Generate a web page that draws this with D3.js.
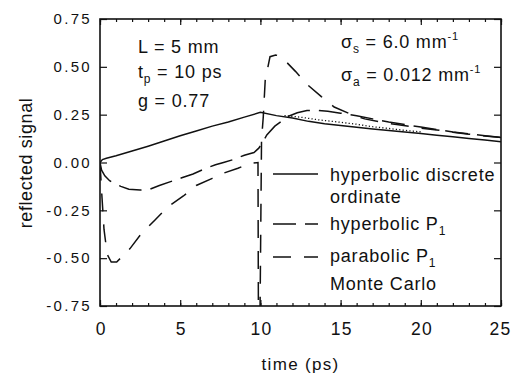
<!DOCTYPE html>
<html>
<head>
<meta charset="utf-8">
<script src="https://cdn.jsdelivr.net/npm/d3@7"></script>
<style>
  body { margin: 0; background: #fff; }
  svg { font-family: "Liberation Sans", Arial, sans-serif; }
</style>
</head>
<body>
<div id="chart"></div>
<script>
// hyperbolic discrete ordinate (solid)
var sdoTime   = [0, 0.15, 0.4, 1, 2, 3, 4, 5, 6, 7, 8, 9, 10, 11, 12, 13, 14, 15, 16, 17, 18, 19, 20, 21, 22, 23, 24, 25];
var sdoSignal = [0, 0.015, 0.022, 0.035, 0.06, 0.085, 0.112, 0.14, 0.165, 0.19, 0.212, 0.237, 0.262, 0.245, 0.232, 0.215, 0.203, 0.193, 0.184, 0.175, 0.167, 0.159, 0.151, 0.143, 0.135, 0.126, 0.118, 0.109];

// hyperbolic P1 (long dash)
var hypTime   = [0, 0.1, 0.3, 0.6, 0.9, 1.3, 1.8, 2.5, 3.1, 3.7, 4.4, 5.1, 5.8, 6.6, 7.2, 7.7, 8.3, 9.0, 9.6, 9.9, 10.1, 10.4, 10.9, 11.7, 12.3, 12.9, 13.5, 14.2, 15, 16, 17, 18, 19, 20, 21, 22, 23, 24, 25];
var hypSignal = [0, -0.04, -0.07, -0.095, -0.11, -0.125, -0.14, -0.144, -0.14, -0.12, -0.1, -0.08, -0.06, -0.03, -0.012, 0, 0.015, 0.038, 0.052, 0.075, 0.1, 0.144, 0.19, 0.24, 0.26, 0.272, 0.272, 0.268, 0.258, 0.244, 0.228, 0.212, 0.198, 0.185, 0.172, 0.16, 0.15, 0.14, 0.131];

// parabolic P1 (short dash)
var parTime   = [0, 0.1, 0.25, 0.45, 0.7, 1.04, 1.87, 2.5, 3.43, 4.25, 5.2, 6.0, 7.0, 7.7, 8.6, 9.35, 9.85, 9.88, 9.96, 10.07, 10.18, 10.3, 10.6, 10.95, 11.3, 12.2, 12.95, 13.8, 14.6, 15.75, 16.5, 17.5, 18.5, 20, 21, 22, 23, 24, 25];
var parSignal = [0, -0.15, -0.35, -0.48, -0.52, -0.52, -0.45, -0.38, -0.3, -0.23, -0.175, -0.12, -0.083, -0.056, -0.03, -0.004, 0, -0.95, -0.95, 0.118, 0.24, 0.43, 0.553, 0.562, 0.553, 0.475, 0.405, 0.344, 0.29, 0.248, 0.228, 0.212, 0.198, 0.18, 0.17, 0.158, 0.148, 0.138, 0.13];

// Monte Carlo (dotted)
var mcTime   = [11.5, 12.5, 13.7, 15, 16, 17, 18, 19, 20];
var mcSignal = [0.245, 0.237, 0.222, 0.21, 0.2, 0.187, 0.178, 0.168, 0.16];

var xTicks = [0, 5, 10, 15, 20, 25];
var xMinorTicks = d3.range(0, 26, 1);
var yTicks = [-0.75, -0.5, -0.25, 0, 0.25, 0.5, 0.75];
var yTickLabels = ["-0.75", "-0.50", "-0.25", "0.00", "0.25", "0.50", "0.75"];

var margin = { top: 19, left: 100, right: 11, bottom: 67 },
    width = 512 - margin.left - margin.right,
    height = 373 - margin.top - margin.bottom;

var svg = d3.select("#chart")
    .append("svg")
    .attr("width", 512)
    .attr("height", 373)
    .append("g")
    .attr("transform", "translate(" + margin.left + "," + margin.top + ")");

var x = d3.scaleLinear().domain([0, 25]).range([0, width]);
var y = d3.scaleLinear().domain([-0.75, 0.75]).range([height, 0]);

svg.append("clipPath").attr("id", "plot-clip")
  .append("rect").attr("width", width).attr("height", height);

// axes, ticks pointing inward
function styleAxis(g) {
  g.select(".domain").remove();
  g.selectAll(".tick line").attr("stroke", "#111").attr("stroke-width", 1.2);
  g.selectAll("text").attr("fill", "#111");
}

svg.append("g")
  .attr("transform", "translate(0," + height + ")")
  .call(d3.axisBottom(x).tickValues(xMinorTicks).tickSize(-3).tickFormat(""))
  .call(styleAxis);
svg.append("g")
  .call(d3.axisTop(x).tickValues(xMinorTicks).tickSize(-3).tickFormat(""))
  .call(styleAxis);
svg.append("g")
  .call(d3.axisTop(x).tickValues(xTicks).tickSize(-6).tickFormat(""))
  .call(styleAxis);

var xAxis = svg.append("g")
  .attr("transform", "translate(0," + height + ")")
  .call(d3.axisBottom(x).tickValues(xTicks).tickSize(-6).tickPadding(17).tickFormat(d3.format("d")))
  .call(styleAxis);
xAxis.selectAll("text")
  .attr("font-size", 17.5)
  .attr("letter-spacing", 1.2)
  .attr("dx", function(d) { return d === 25 ? -1 : 0.6; });

var yAxis = svg.append("g")
  .call(d3.axisLeft(y).tickValues(yTicks).tickSize(-7).tickPadding(8)
    .tickFormat(function(d, i) { return yTickLabels[i]; }))
  .call(styleAxis);
yAxis.selectAll("text")
  .attr("font-size", 15)
  .attr("letter-spacing", 2.3);

svg.append("g")
  .attr("transform", "translate(" + width + ",0)")
  .call(d3.axisRight(y).tickValues(yTicks).tickSize(-7).tickFormat(""))
  .call(styleAxis);

svg.append("rect")
  .attr("width", width)
  .attr("height", height)
  .attr("fill", "none")
  .attr("stroke", "#111")
  .attr("stroke-width", 1.6);

// curves
var line = d3.line()
  .x(function(d) { return x(d[0]); })
  .y(function(d) { return y(d[1]); });

var series = [
  { t: sdoTime, v: sdoSignal, dash: null, w: 1.5 },
  { t: hypTime, v: hypSignal, dash: "23,9", w: 1.5 },
  { t: parTime, v: parSignal, dash: "18,13", w: 1.5 },
  { t: mcTime, v: mcSignal, dash: "1.2,2.2", w: 1.3 }
];

var curves = svg.append("g").attr("clip-path", "url(#plot-clip)");
series.forEach(function(s) {
  curves.append("path")
    .datum(d3.zip(s.t, s.v))
    .attr("d", line)
    .attr("fill", "none")
    .attr("stroke", "#111")
    .attr("stroke-width", s.w)
    .attr("stroke-dasharray", s.dash);
});

// legend
var legend = svg.append("g").attr("fill", "#111").attr("font-size", 18).attr("letter-spacing", 0.8);
var legendLines = [
  { y: 174 - margin.top, dash: null },
  { y: 224 - margin.top, dash: "23,9" },
  { y: 257 - margin.top, dash: "18,13" }
];
legendLines.forEach(function(l) {
  legend.append("line")
    .attr("x1", 273 - margin.left).attr("x2", 318 - margin.left)
    .attr("y1", l.y).attr("y2", l.y)
    .attr("stroke", "#111").attr("stroke-width", 1.5)
    .attr("stroke-dasharray", l.dash);
});
var lx = 330 - margin.left;
legend.append("text").attr("x", lx).attr("y", 181 - margin.top).text("hyperbolic discrete");
legend.append("text").attr("x", lx).attr("y", 203 - margin.top).text("ordinate");
var t1 = legend.append("text").attr("x", lx).attr("y", 230 - margin.top);
t1.append("tspan").text("hyperbolic P");
t1.append("tspan").attr("dy", 5).attr("font-size", 12).text("1");
var t2 = legend.append("text").attr("x", lx).attr("y", 262 - margin.top);
t2.append("tspan").text("parabolic P");
t2.append("tspan").attr("dy", 5).attr("font-size", 12).text("1");
legend.append("text").attr("x", lx).attr("y", 290 - margin.top).text("Monte Carlo");

// annotations
var notes = svg.append("g").attr("fill", "#111").attr("font-size", 18).attr("letter-spacing", 0.8);
notes.append("text").attr("x", 38).attr("y", 53 - margin.top).text("L = 5 mm");
var tp = notes.append("text").attr("x", 38).attr("y", 78 - margin.top);
tp.append("tspan").text("t");
tp.append("tspan").attr("dy", 5).attr("font-size", 12).text("p");
tp.append("tspan").attr("dy", -5).text(" = 10 ps");
notes.append("text").attr("x", 38).attr("y", 107 - margin.top).text("g = 0.77");

var ss = notes.append("text").attr("x", 241).attr("y", 48 - margin.top);
ss.append("tspan").text("σ");
ss.append("tspan").attr("dy", 5).attr("font-size", 12).text("s");
ss.append("tspan").attr("dy", -5).text(" = 6.0 mm");
ss.append("tspan").attr("dy", -8).attr("font-size", 11).text("-1");
var sa = notes.append("text").attr("x", 241).attr("y", 81 - margin.top);
sa.append("tspan").text("σ");
sa.append("tspan").attr("dy", 5).attr("font-size", 12).text("a");
sa.append("tspan").attr("dy", -5).text(" = 0.012 mm");
sa.append("tspan").attr("dy", -8).attr("font-size", 11).text("-1");

// axis titles
svg.append("text")
  .attr("transform", "translate(" + (32 - margin.left) + "," + (163 - margin.top) + ") rotate(-90)")
  .attr("text-anchor", "middle")
  .attr("font-size", 18)
  .attr("letter-spacing", 0.6)
  .attr("fill", "#111")
  .text("reflected signal");

svg.append("text")
  .attr("x", width / 2)
  .attr("y", 370 - margin.top)
  .attr("text-anchor", "middle")
  .attr("font-size", 17)
  .attr("letter-spacing", 1.3)
  .attr("fill", "#111")
  .text("time (ps)");
</script>
</body>
</html>
